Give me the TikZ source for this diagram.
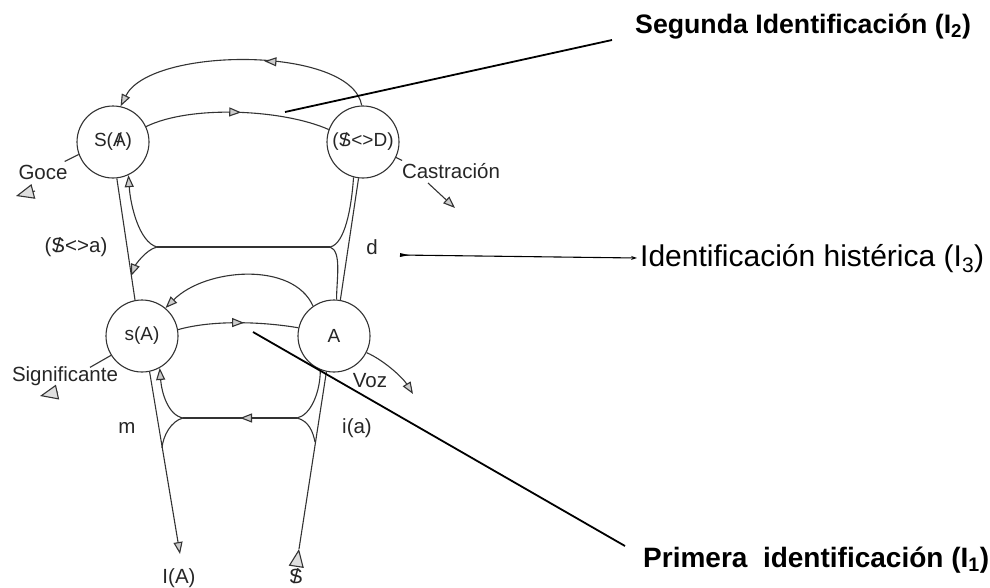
\documentclass[tikz,border=0pt]{standalone}
\usepackage{fontspec}
\setmainfont{Liberation Sans}
\usetikzlibrary{arrows.meta,decorations.markings}

\newcommand{\bS}{\ooalign{S\cr\hidewidth/\hidewidth\cr}}
\newcommand{\bA}{\ooalign{A\cr\hidewidth/\hidewidth\cr}}

\tikzset{
  >={Triangle[length=12pt,width=9pt,fill=gray!40]},
  vec/.style={draw=black!80, line width=1.1pt},
  lug/.style={circle, draw=black!80, line width=1.1pt, minimum size=72pt, inner sep=0pt,
    text=black!85, font=\fontsize{19}{19}\selectfont},
  lbl/.style={inner sep=0pt, text=black!85, font=\fontsize{20.5}{20.5}\selectfont},
  big/.style={inner sep=0pt, anchor=base west, font=\fontsize{26.7}{26.7}\selectfont\bfseries},
  bignote/.style={inner sep=0pt, anchor=base west, font=\fontsize{30}{30}\selectfont},
  pointer/.style={draw=black, line width=1.8pt},
  midarrow/.style={postaction={decorate},
    decoration={markings, mark=at position #1 with {\arrow{>}}}},
  delta/.style={>={Triangle[length=18pt,width=15pt,fill=gray!25]}}
}

\begin{document}
\begin{tikzpicture}[x=1pt, y=-1pt]
\useasboundingbox (0,0) rectangle (990,587);
% lugares del grafo
\node[lug] (SA) at (113,142) {S(\bA)};
\node[lug] (SD) at (363,142) {(\bS<>D)};
\node[lug] (sA) at (142,336) {s(A)};
\node[lug] (A) at (334,336) {A};

% piso superior
\draw[vec, ->, midarrow=0.42] (SD.92) .. controls +(-10,-60) and +(30,-60) .. (SA.78);
\draw[vec, midarrow=0.52] (SA.25) .. controls +(45,-22) and +(-45,-20) .. (SD.160);
\coordinate (h1l) at (157,247);
\coordinate (h1r) at (330,247);
\coordinate (j1) at (131,276);
\draw[vec] (h1l) -- (h1r);
\draw[vec, ->] (h1l) .. controls +(-18,-5) and +(2,30) .. (SA.-65);
\draw[vec, ->] (h1l) .. controls +(-12,3) and +(4,-10) .. (j1);
\draw[vec] (SA.-84) -- (sA.101);
\draw[vec] (h1r) .. controls +(15,-3) and +(-2,30) .. (SD.-105);
\draw[vec] (h1r) .. controls +(12,4) and +(0,-20) .. (A.86);
\draw[vec] (SD.-97) -- (A.80);

% piso inferior
\draw[vec, ->] (A.125) .. controls +(-20,-45) and +(40,-40) .. (sA.50);
\draw[vec, midarrow=0.55] (sA.10) .. controls +(35,-10) and +(-35,-6) .. (A.167);
\coordinate (h2l) at (183,418);
\coordinate (h2r) at (297,418);
\coordinate (j2) at (162,448);
\coordinate (j2r) at (315,442);
\coordinate (IAtip) at (180,554);
\coordinate (s0) at (299,549);
\draw[vec, midarrow=0.5] (h2r) -- (h2l);
\draw[vec, ->] (h2l) .. controls +(-15,-3) and +(2,25) .. (sA.-61);
\draw[vec] (h2l) .. controls +(-12,3) and +(1,-12) .. (j2);
\draw[vec] (h2r) .. controls +(14,-3) and +(0,22) .. (A.-112);
\draw[vec] (h2r) .. controls +(12,3) and +(-2,-10) .. (j2r);
\draw[vec, ->] (sA.-78) -- (IAtip);
\draw[vec, delta, midarrow=0] (s0) -- (A.-102);

% salidas laterales
\coordinate (goceA) at (35,191);
\coordinate (goceB) at (16,196);
\coordinate (sigA) at (58,392);
\coordinate (sigB) at (40,396);
\coordinate (castA) at (428,183);
\coordinate (castB) at (455,208);
\coordinate (vozend) at (413,394);
\draw[vec] (SA.200) -- ++(-14,7);
\draw[vec, delta, ->] (goceA) -- (goceB);
\draw[vec] (sA.212) -- ++(-21,12);
\draw[vec, delta, ->] (sigA) -- (sigB);
\draw[vec] (SD.-25) -- ++(6,3);
\draw[vec, ->] (castA) -- (castB);
\draw[vec, ->] (A.-27) .. controls +(18,8) and +(-10,-16) .. (vozend);

% textos
\node[lbl] (goce) at (43,172) {Goce};
\node[lbl] (cast) at (451,171) {Castración};
\node[lbl] (sa) at (76,247) {(\bS<>a)};
\node[lbl] (d) at (372,247) {d};
\node[lbl] (sig) at (65,376) {Significante};
\node[lbl] (voz) at (370,381) {Voz};
\node[lbl] (m) at (127,428) {m};
\node[lbl] (ia) at (357,428) {i(a)};
\node[lbl] (IA) at (179,578) {I(A)};
\node[lbl] (S) at (296,576) {\bS};

% identificaciones
\node[big] (seg) at (635,33) {Segunda Identificación (I\textsubscript{2})};
\node[bignote] (hist) at (640,266) {Identificación histérica (I\textsubscript{3})};
\node[big, font=\fontsize{28}{28}\selectfont\bfseries] (prim) at (643,567) {Primera\ \ identificación (I\textsubscript{1})};
\coordinate (i2) at (285,112);
\coordinate (i2e) at (612,40);
\coordinate (i1) at (253,332);
\coordinate (i1e) at (625,546);
\coordinate (i3) at (400,255);
\coordinate (i3e) at (637,258);
\draw[pointer] (i2) -- (i2e);
\draw[pointer] (i1) -- (i1e);
\draw[line width=1.1pt, {Latex[reversed,length=12pt,width=4pt]}-{Stealth[length=6pt,width=4pt]}] (i3) -- (i3e);
\end{tikzpicture}
\end{document}
